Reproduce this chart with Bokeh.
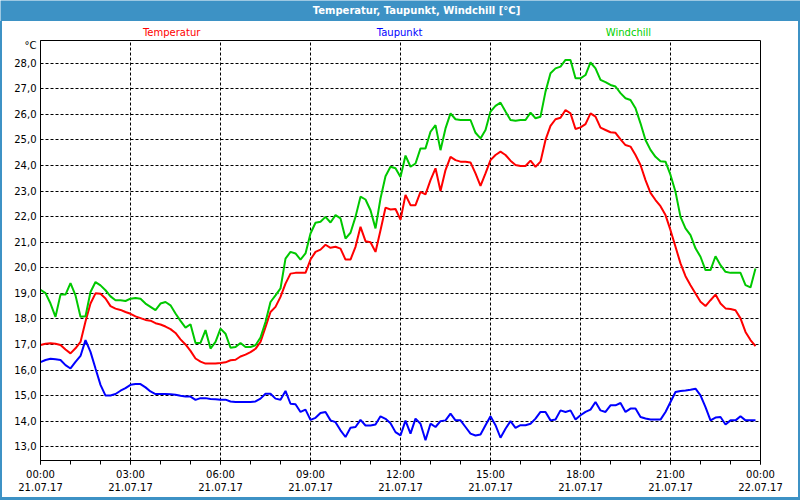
from bokeh.plotting import figure
from bokeh.models import FixedTicker, Range1d, Spacer
from bokeh.layouts import column, row
from bokeh.embed import file_html
from bokeh.resources import INLINE
from bokeh.core.properties import value

# ---------------- data (10-minute values, 21.07.17 00:00 .. 23:50) ----------------
TITLE = "Temperatur, Taupunkt, Windchill [°C]"
SERIES_NAMES = ["Temperatur", "Taupunkt", "Windchill"]
UNIT = "°C"

zeit_h = [i * 10 / 60 for i in range(144)]  # hours since 21.07.17 00:00

temperatur = [
    16.98, 17.03, 17.05, 17.03, 16.98, 16.80,
    16.65, 16.85, 17.10, 17.90, 18.60, 19.00,
    18.98, 18.80, 18.50, 18.40, 18.35, 18.27,
    18.20, 18.10, 18.03, 17.96, 17.93, 17.83,
    17.78, 17.70, 17.60, 17.45, 17.20, 17.00,
    16.75, 16.45, 16.33, 16.25, 16.25, 16.25,
    16.27, 16.30, 16.38, 16.40, 16.53, 16.60,
    16.70, 16.83, 17.10, 17.68, 18.27, 18.47,
    18.86, 19.38, 19.77, 19.80, 19.80, 19.80,
    20.32, 20.62, 20.71, 20.90, 20.78, 20.82,
    20.75, 20.32, 20.32, 20.82, 21.60, 21.04,
    21.00, 20.62, 21.47, 22.35, 22.28, 22.30,
    21.88, 22.85, 22.45, 22.45, 22.97, 22.87,
    23.43, 23.89, 23.00, 23.82, 24.34, 24.21,
    24.15, 24.15, 24.12, 23.69, 23.20, 23.69,
    24.21, 24.41, 24.54, 24.41, 24.19, 24.02,
    23.98, 23.98, 24.19, 23.95, 24.15, 25.00,
    25.55, 25.81, 25.87, 26.17, 26.04, 25.43,
    25.49, 25.62, 26.04, 25.91, 25.48, 25.39,
    25.30, 25.28, 25.02, 24.80, 24.74, 24.41,
    24.02, 23.43, 22.93, 22.65, 22.41, 22.06,
    21.47, 20.82, 20.17, 19.67, 19.32, 18.99,
    18.67, 18.50, 18.73, 18.95, 18.60, 18.41,
    18.39, 18.34, 18.02, 17.49, 17.17, 16.93,
]

taupunkt = [
    16.31, 16.39, 16.44, 16.42, 16.39, 16.19,
    16.06, 16.32, 16.55, 17.17, 16.71, 16.06,
    15.42, 15.00, 15.00, 15.06, 15.19, 15.29,
    15.42, 15.45, 15.45, 15.32, 15.16, 15.06,
    15.06, 15.06, 15.05, 15.03, 14.99, 14.96,
    14.96, 14.83, 14.90, 14.90, 14.87, 14.86,
    14.84, 14.84, 14.77, 14.75, 14.75, 14.75,
    14.75, 14.77, 14.88, 15.07, 15.07, 14.88,
    14.84, 15.18, 14.68, 14.66, 14.36, 14.45,
    14.05, 14.13, 14.32, 14.36, 14.03, 13.96,
    13.64, 13.38, 13.74, 13.77, 14.05, 13.83,
    13.83, 13.87, 14.19, 14.09, 13.92, 13.57,
    13.44, 14.02, 13.51, 14.10, 13.90, 13.25,
    13.90, 13.77, 14.00, 14.03, 14.29, 14.03,
    14.03, 13.77, 13.51, 13.44, 13.48, 13.84,
    14.19, 13.84, 13.35, 13.70, 14.00, 13.74,
    13.84, 13.84, 13.90, 14.10, 14.36, 14.36,
    14.03, 14.06, 14.42, 14.36, 14.42, 14.06,
    14.23, 14.36, 14.45, 14.75, 14.42, 14.36,
    14.62, 14.62, 14.71, 14.36, 14.49, 14.49,
    14.16, 14.10, 14.06, 14.06, 14.06, 14.36,
    14.75, 15.14, 15.18, 15.20, 15.23, 15.27,
    15.01, 14.55, 14.03, 14.14, 14.16, 13.87,
    14.03, 14.03, 14.19, 14.03, 14.03, 14.03,
]

windchill = [
    19.14, 19.01, 18.60, 18.08, 18.95, 18.95,
    19.40, 18.92, 18.08, 18.10, 19.05, 19.44,
    19.31, 19.12, 18.88, 18.73, 18.73, 18.70,
    18.79, 18.82, 18.79, 18.60, 18.47, 18.34,
    18.60, 18.66, 18.53, 18.21, 17.92, 17.66,
    17.79, 17.06, 17.06, 17.56, 16.84, 17.10,
    17.62, 17.42, 16.87, 16.90, 17.06, 16.90,
    16.90, 16.97, 17.27, 17.88, 18.66, 18.92,
    19.19, 20.36, 20.62, 20.56, 20.32, 20.56,
    21.34, 21.76, 21.80, 21.99, 21.77, 22.06,
    21.93, 21.14, 21.37, 21.99, 22.78, 22.67,
    22.25, 21.54, 22.71, 23.58, 23.95, 23.89,
    23.55, 24.39, 23.95, 24.08, 24.67, 24.67,
    25.32, 25.58, 24.60, 25.45, 26.04, 25.81,
    25.78, 25.78, 25.78, 25.28, 25.06, 25.39,
    26.11, 26.33, 26.46, 26.11, 25.78, 25.75,
    25.78, 25.78, 26.07, 25.85, 25.91, 26.89,
    27.61, 27.80, 27.87, 28.13, 28.13, 27.41,
    27.41, 27.54, 28.03, 27.80, 27.35, 27.26,
    27.15, 27.09, 26.83, 26.63, 26.56, 26.24,
    25.65, 25.00, 24.61, 24.34, 24.17, 24.15,
    23.63, 22.97, 21.99, 21.54, 21.28, 20.76,
    20.43, 19.91, 19.91, 20.45, 20.10, 19.84,
    19.80, 19.80, 19.80, 19.32, 19.23, 19.97,
]

x_ticks = [0, 3, 6, 9, 12, 15, 18, 21, 24]
x_tick_labels = ["00:00\n21.07.17", "03:00\n21.07.17", "06:00\n21.07.17",
                 "09:00\n21.07.17", "12:00\n21.07.17", "15:00\n21.07.17",
                 "18:00\n21.07.17", "21:00\n21.07.17", "00:00\n22.07.17"]
y_ticks = list(range(13, 29))
y_tick_labels = [f"{v},0" for v in y_ticks]

# ---------------- styling ----------------
FONT = "DejaVu Sans"
BAR_BLUE = "#3d92c5"
C_TEMP = "#ff0000"
C_TAU = "#0000ff"
C_WIND = "#00c800"
C_WIND_TXT = "#00d000"
Y_MIN, Y_MAX = 12.46, 28.89
UNIT_POS = 28.69  # where the unit text sits on the y axis

W = 800
INNER_W = 796

# title bar
bar = figure(width=W, height=21, x_range=Range1d(0, 1), y_range=Range1d(0, 1),
             x_axis_type=None, y_axis_type=None, toolbar_location=None,
             output_backend="svg", min_border=0,
             background_fill_color=BAR_BLUE, border_fill_color=BAR_BLUE,
             outline_line_color=None)
bar.text(x=[0.52], y=[0.52], text=[TITLE], text_color="white",
         text_font=value(FONT), text_font_style="bold", text_font_size="10px",
         text_align="center", text_baseline="middle")

# series-name strip (pixel coordinates of the strip)
strip = figure(width=INNER_W, height=17, x_range=Range1d(0, INNER_W), y_range=Range1d(0, 17),
               x_axis_type=None, y_axis_type=None, toolbar_location=None,
               output_backend="svg", min_border=0,
               background_fill_color="white", border_fill_color="white",
               outline_line_color=None)
strip.text(x=[145, 397, 650], y=[6, 6, 6], text=SERIES_NAMES,
           text_color=[C_TEMP, C_TAU, C_WIND_TXT],
           text_font=value(FONT), text_font_size="10px",
           text_align="center", text_baseline="middle")

# main chart
p = figure(width=INNER_W, height=459, x_range=Range1d(0, 24), y_range=Range1d(Y_MIN, Y_MAX),
           toolbar_location=None, output_backend="svg",
           min_border_left=38, min_border_right=38, min_border_top=2, min_border_bottom=37,
           background_fill_color="white", border_fill_color="white",
           outline_line_color="black", outline_line_width=1)

p.xaxis.ticker = FixedTicker(ticks=x_ticks, minor_ticks=list(range(0, 25)))
p.xaxis.major_label_overrides = {t: l for t, l in zip(x_ticks, x_tick_labels)}
p.xaxis.major_tick_in = 0
p.xaxis.major_tick_out = 4
p.xaxis.minor_tick_in = 0
p.xaxis.minor_tick_out = 4
p.xaxis.minor_tick_line_color = "black"
p.xaxis.major_label_standoff = 4

p.yaxis.ticker = FixedTicker(ticks=y_ticks + [UNIT_POS])
overrides = {t: l for t, l in zip(y_ticks, y_tick_labels)}
overrides[UNIT_POS] = UNIT
p.yaxis.major_label_overrides = overrides
p.yaxis.major_tick_in = 0
p.yaxis.major_tick_out = 0
p.yaxis.minor_tick_line_color = None
p.yaxis.major_label_standoff = 4

for ax in (p.xaxis, p.yaxis):
    ax.axis_line_color = "black"
    ax.major_tick_line_color = "black"
    ax.major_label_text_font = FONT
    ax.major_label_text_font_size = "10px"
    ax.major_label_text_color = "black"

p.xgrid.ticker = FixedTicker(ticks=x_ticks[1:-1])
p.ygrid.ticker = FixedTicker(ticks=y_ticks)
for g in (p.xgrid, p.ygrid):
    g.grid_line_color = "black"
    g.grid_line_dash = "3 2"
    g.grid_line_width = 1
    g.grid_line_alpha = 1.0

p.line(zeit_h, temperatur, line_color=C_TEMP, line_width=2)
p.line(zeit_h, taupunkt, line_color=C_TAU, line_width=2)
p.line(zeit_h, windchill, line_color=C_WIND, line_width=2)

# thin blue frame around the white chart area
left_edge = Spacer(width=2, height=476, styles={"background-color": BAR_BLUE})
right_edge = Spacer(width=2, height=476, styles={"background-color": BAR_BLUE})
bottom_edge = Spacer(width=W, height=3, styles={"background-color": BAR_BLUE})

layout = column(bar, row(left_edge, column(strip, p, spacing=0), right_edge, spacing=0),
                bottom_edge, spacing=0)
open("out.html", "w").write(file_html(layout, INLINE, title=TITLE))
